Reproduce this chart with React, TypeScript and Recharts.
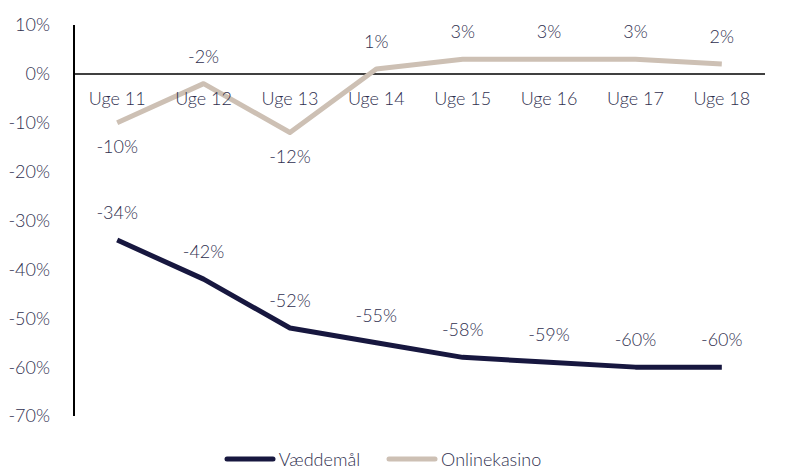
import React from 'react';
import { LineChart, Line, XAxis, YAxis, ReferenceLine, LabelList, Legend } from 'recharts';

const weeks = ['Uge 11', 'Uge 12', 'Uge 13', 'Uge 14', 'Uge 15', 'Uge 16', 'Uge 17', 'Uge 18'];
const vaeddemaal = [-34, -42, -52, -55, -58, -59, -60, -60];
const onlinekasino = [-10, -2, -12, 1, 3, 3, 3, 2];
const yTicks = [10, 0, -10, -20, -30, -40, -50, -60, -70];

const data = weeks.map((w, i) => ({ week: w, v: vaeddemaal[i], o: onlinekasino[i] }));

const TEXT = '#30304f';
const NAVY = '#17173f';
const BEIGE = '#cdc0b4';
const FONT = 'Lato, sans-serif';
const FS = 18;
const FW = 300;

const makeLabel = (belowIfUnder: number | null) => (props: any) => {
  const { x, y, value } = props;
  const below = belowIfUnder !== null && value <= belowIfUnder;
  return (
    <text x={x} y={below ? y + 23 : y - 28} textAnchor="middle" dominantBaseline="central"
      fill={TEXT} fontSize={FS} fontWeight={FW} fontFamily={FONT}>{`${value}%`}</text>
  );
};

const XTick = (props: any) => {
  const { x, y, payload } = props;
  return (
    <text x={x} y={y + 81} textAnchor="middle" dominantBaseline="central" fill={TEXT} fontSize={FS} fontWeight={FW} fontFamily={FONT}>
      {payload.value}
    </text>
  );
};

const LegendContent = () => (
  <div style={{ display: 'flex', justifyContent: 'center', alignItems: 'center', fontFamily: FONT, fontSize: FS, fontWeight: FW, color: TEXT, lineHeight: '22px', height: 22 }}>
    {[{ name: 'Væddemål', c: NAVY }, { name: 'Onlinekasino', c: BEIGE }].map((it, i) => (
      <div key={it.name} style={{ display: 'flex', alignItems: 'center', marginLeft: i ? 26 : 0 }}>
        <svg width={52} height={8}>
          <line x1={3} y1={4} x2={49} y2={4} stroke={it.c} strokeWidth={5} strokeLinecap="round" />
        </svg>
        <span style={{ marginLeft: 3 }}>{it.name}</span>
      </div>
    ))}
  </div>
);

export default function App() {
  return (
    <div style={{ position: 'absolute', left: 0, top: 0 }}>
      <LineChart width={787} height={469} data={data} margin={{ top: 24, right: 22, bottom: 31, left: 0 }}>
        <XAxis dataKey="week" orientation="top" height={1} scale="band" axisLine={false} tickLine={false} tick={XTick} interval={0} />
        <YAxis domain={[-70, 10]} ticks={yTicks} width={74} axisLine={{ stroke: '#000', strokeWidth: 2 }} tickLine={false}
          tickFormatter={(v) => `${v}%`} tick={{ fill: TEXT, fontSize: FS, fontWeight: FW, fontFamily: FONT }} tickMargin={18} interval={0} />
        <ReferenceLine y={0} stroke="#000" strokeWidth={1.5} />
        <Line dataKey="o" stroke={BEIGE} strokeWidth={5} dot={false} isAnimationActive={false} strokeLinejoin="round">
          <LabelList dataKey="o" content={makeLabel(-5)} />
        </Line>
        <Line dataKey="v" stroke={NAVY} strokeWidth={5} dot={false} isAnimationActive={false} strokeLinejoin="round">
          <LabelList dataKey="v" content={makeLabel(null)} />
        </Line>
        <Legend verticalAlign="bottom" content={<LegendContent />} wrapperStyle={{ bottom: -1 }} />
      </LineChart>
    </div>
  );
}
